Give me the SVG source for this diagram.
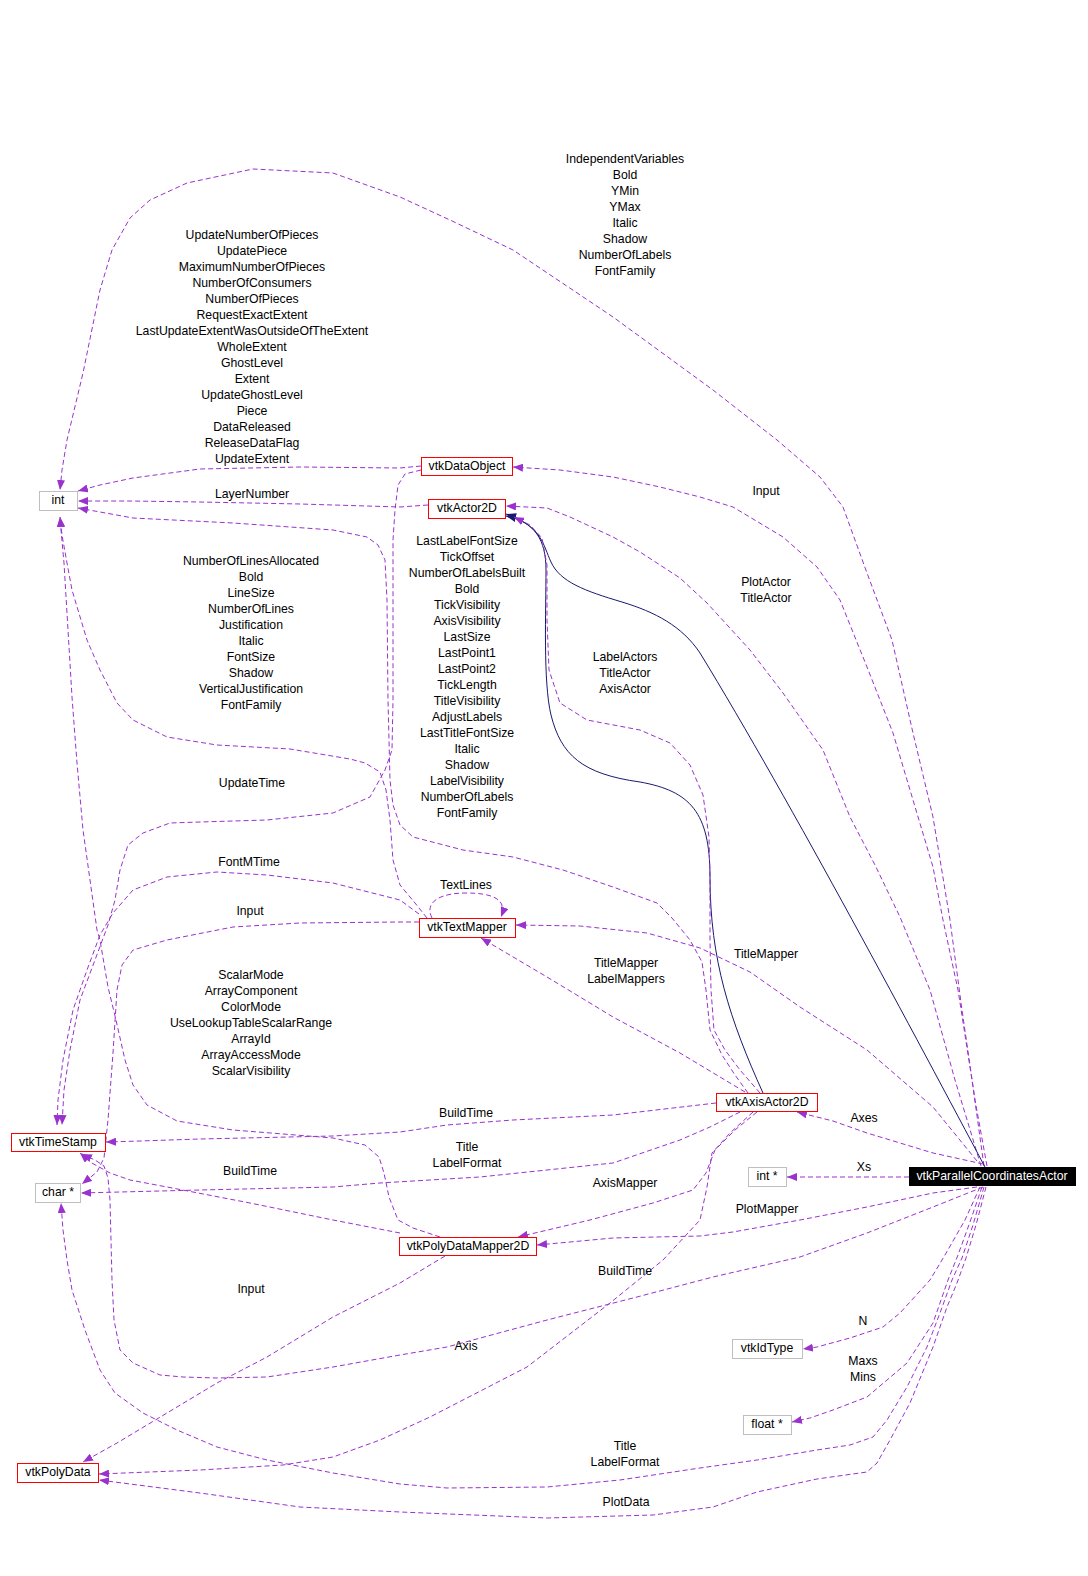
<svg xmlns="http://www.w3.org/2000/svg" width="1088" height="1576" viewBox="0 0 1088 1576">
<defs>
<marker id="ap" markerUnits="userSpaceOnUse" markerWidth="11" markerHeight="8" refX="10" refY="4" orient="auto" viewBox="0 0 11 8"><path d="M0,0L10,4L0,8z" fill="#9a32cd"/></marker>
<marker id="an" markerUnits="userSpaceOnUse" markerWidth="11" markerHeight="8" refX="10" refY="4" orient="auto" viewBox="0 0 11 8"><path d="M0,0L10,4L0,8z" fill="#191970"/></marker>
<style>
.e{fill:none;stroke:#9a32cd;stroke-width:1;stroke-dasharray:5,3;marker-end:url(#ap)}
.s{fill:none;stroke:#191970;stroke-width:1;marker-end:url(#an)}
text{font-family:"Liberation Sans",Arial,sans-serif;font-size:12.25px;fill:#000;text-anchor:middle}
.r{fill:#fff;stroke:#ff0000;stroke-width:1}
.g{fill:#fff;stroke:#bfbfbf;stroke-width:1}
</style>
</defs>
<rect width="1088" height="1576" fill="#fff"/>
<g id="edges">
<path class="e" d="M987,1166 L975,1100 L962,1010 L950,920 L933,817 L913,733 L892,640 L867,573 L843,507 L820,477 L777,440 L713,390 L613,317 L513,250 L450,220 L400,197 L333,173 L253,169 L187,183 L150,200 L130,218 L112,250 L100,290 L83,373 L67,440 L62,470 L60,490"/>
<path class="e" d="M984,1166 L972,1080 L958,990 L943,920 L933,867 L913,800 L893,733 L867,667 L840,600 L817,567 L783,537 L733,507 L700,497 L660,487 L613,477 L560,470 L513,467"/>
<path class="e" d="M981,1166 L955,1080 L930,990 L900,917 L875,865 L850,817 L823,750 L783,693 L750,650 L707,603 L680,578 L640,552 L613,537 L570,517 L547,508 L506,506"/>
<path class="s" d="M985,1167 C920,1045 790,800 700,653 C682,626 655,612 622,602 C585,591 560,582 551,562 C543,545 542,526 506,514"/>
<path class="s" d="M763,1093 C730,1020 710,960 710,877 C710,812 690,791 640,782 C582,774 561,755 551,715 C543,682 546,610 546,570 C546,540 535,522 506,516"/>
<path class="e" d="M760,1093 L740,1070 L725,1050 L714,1030 L711,990 L710,940 L710,880 L709,837 L703,795 L690,765 L670,743 L640,730 L587,720 L560,703 L549,670 L547,620 L547,565 L542,538 L530,525 L514,517"/>
<path class="e" d="M745,1092 L680,1053 L613,1017 L547,977 L481,938"/>
<path class="e" d="M977,1161 L933,1107 L867,1050 L800,1007 L750,972 L700,948 L647,933 L580,926 L516,925"/>
<path class="e" d="M432,918 C424,902 440,893 466,893 C492,893 508,899 501,917"/>
<path class="e" d="M427,918 L415,903 L400,885 L393,860 L390,820 L386,790 L380,772 L365,763 L350,759 L290,749 L217,745 L167,737 L133,720 L117,703 L100,670 L87,640 L72,590 L67,563 L62,535 L60,517"/>
<path class="e" d="M421,470 L405,474 L398,485 L395,510 L393,540 L393,700 L392,750 L385,770 L370,797 L333,813 L267,820 L200,822 L170,823 L143,833 L128,845 L120,870 L115,900 L108,925 L95,960 L80,1000 L70,1050 L64,1090 L62,1125"/>
<path class="e" d="M419,914 L400,900 L333,883 L267,875 L217,872 L167,877 L133,890 L113,913 L100,935 L87,970 L73,1010 L63,1060 L58,1100 L57,1125"/>
<path class="e" d="M419,922 L400,922 L300,923 L233,927 L167,940 L133,950 L122,965 L117,990 L113,1053 L108,1120 L104,1158 L97,1172 L82,1184"/>
<path class="e" d="M428,505 L400,507 L300,504 L200,502 L130,501 L78,501"/>
<path class="e" d="M421,466 L400,468 L300,467 L200,469 L133,478 L100,485 L78,491"/>
<path class="e" d="M748,1093 L735,1075 L722,1055 L710,1030 L706,990 L702,962 L690,940 L672,918 L657,903 L613,887 L563,870 L513,857 L463,850 L413,837 L400,825 L393,805 L390,780 L388,700 L387,600 L385,560 L378,545 L367,537 L333,530 L233,523 L133,518 L100,512 L78,508"/>
<path class="e" d="M440,1237 L413,1228 L398,1220 L389,1197 L384,1173 L379,1157 L365,1145 L333,1138 L233,1130 L177,1121 L147,1105 L133,1085 L125,1060 L116,1020 L108,987 L100,940 L97,930 L90,880 L83,830 L77,763 L72,697 L68,630 L64,563 L61,530 L60,517"/>
<path class="e" d="M716,1103 L613,1115 L513,1120 L447,1125 L400,1132 L333,1136 L200,1139 L140,1141 L106,1142"/>
<path class="e" d="M400,1233 L333,1220 L250,1203 L167,1187 L130,1180 L110,1173 L90,1162 L80,1153"/>
<path class="e" d="M983,1187 L933,1207 L867,1233 L800,1257 L713,1277 L637,1297 L547,1320 L447,1347 L400,1355 L333,1367 L267,1377 L217,1378 L183,1377 L160,1375 L133,1363 L120,1350 L114,1320 L112,1280 L111,1240 L110,1200 L108,1178 L104,1166 L95,1160 L82,1154"/>
<path class="e" d="M740,1112 L710,1127 L680,1140 L613,1163 L547,1170 L480,1177 L380,1183 L333,1187 L200,1190 L120,1192 L81,1193"/>
<path class="e" d="M757,1112 L735,1130 L715,1150 L706,1173 L693,1190 L653,1203 L590,1220 L518,1237"/>
<path class="e" d="M753,1112 L730,1133 L712,1153 L707,1187 L700,1220 L663,1260 L610,1303 L527,1367 L430,1417 L380,1440 L333,1457 L283,1465 L200,1470 L99,1474"/>
<path class="e" d="M983,1164 L933,1153 L867,1133 L833,1121 L797,1112"/>
<path class="e" d="M909,1177 L787,1177"/>
<path class="e" d="M977,1187 L933,1193 L867,1207 L800,1220 L733,1232 L700,1236 L613,1238 L570,1242 L537,1245"/>
<path class="e" d="M980,1187 L965,1220 L945,1255 L930,1280 L900,1313 L883,1327 L850,1338 L817,1347 L803,1349"/>
<path class="e" d="M982,1187 L970,1222 L958,1255 L948,1280 L940,1303 L933,1323 L907,1363 L887,1380 L867,1397 L833,1410 L810,1418 L792,1422"/>
<path class="e" d="M984,1187 L973,1225 L962,1258 L952,1280 L940,1313 L927,1347 L907,1387 L887,1420 L873,1437 L850,1445 L817,1450 L757,1460 L700,1468 L620,1480 L547,1487 L447,1488 L400,1484 L333,1473 L267,1460 L217,1447 L177,1430 L143,1413 L115,1393 L100,1370 L85,1330 L72,1290 L67,1260 L63,1230 L61,1203"/>
<path class="e" d="M986,1187 L976,1225 L966,1258 L957,1283 L947,1307 L933,1347 L910,1403 L890,1440 L877,1463 L867,1472 L817,1479 L757,1492 L713,1507 L653,1515 L547,1518 L400,1512 L300,1507 L200,1493 L99,1480"/>
<path class="e" d="M445,1256 L400,1283 L333,1317 L267,1357 L217,1383 L167,1413 L117,1443 L83,1462"/>
</g>
<g id="labels">
<text x="625" y="163">IndependentVariables<tspan x="625" dy="16">Bold</tspan><tspan x="625" dy="16">YMin</tspan><tspan x="625" dy="16">YMax</tspan><tspan x="625" dy="16">Italic</tspan><tspan x="625" dy="16">Shadow</tspan><tspan x="625" dy="16">NumberOfLabels</tspan><tspan x="625" dy="16">FontFamily</tspan></text>
<text x="252" y="239">UpdateNumberOfPieces<tspan x="252" dy="16">UpdatePiece</tspan><tspan x="252" dy="16">MaximumNumberOfPieces</tspan><tspan x="252" dy="16">NumberOfConsumers</tspan><tspan x="252" dy="16">NumberOfPieces</tspan><tspan x="252" dy="16">RequestExactExtent</tspan><tspan x="252" dy="16">LastUpdateExtentWasOutsideOfTheExtent</tspan><tspan x="252" dy="16">WholeExtent</tspan><tspan x="252" dy="16">GhostLevel</tspan><tspan x="252" dy="16">Extent</tspan><tspan x="252" dy="16">UpdateGhostLevel</tspan><tspan x="252" dy="16">Piece</tspan><tspan x="252" dy="16">DataReleased</tspan><tspan x="252" dy="16">ReleaseDataFlag</tspan><tspan x="252" dy="16">UpdateExtent</tspan></text>
<text x="252" y="498">LayerNumber</text>
<text x="766" y="495">Input</text>
<text x="766" y="586">PlotActor<tspan x="766" dy="16">TitleActor</tspan></text>
<text x="251" y="565">NumberOfLinesAllocated<tspan x="251" dy="16">Bold</tspan><tspan x="251" dy="16">LineSize</tspan><tspan x="251" dy="16">NumberOfLines</tspan><tspan x="251" dy="16">Justification</tspan><tspan x="251" dy="16">Italic</tspan><tspan x="251" dy="16">FontSize</tspan><tspan x="251" dy="16">Shadow</tspan><tspan x="251" dy="16">VerticalJustification</tspan><tspan x="251" dy="16">FontFamily</tspan></text>
<text x="467" y="545">LastLabelFontSize<tspan x="467" dy="16">TickOffset</tspan><tspan x="467" dy="16">NumberOfLabelsBuilt</tspan><tspan x="467" dy="16">Bold</tspan><tspan x="467" dy="16">TickVisibility</tspan><tspan x="467" dy="16">AxisVisibility</tspan><tspan x="467" dy="16">LastSize</tspan><tspan x="467" dy="16">LastPoint1</tspan><tspan x="467" dy="16">LastPoint2</tspan><tspan x="467" dy="16">TickLength</tspan><tspan x="467" dy="16">TitleVisibility</tspan><tspan x="467" dy="16">AdjustLabels</tspan><tspan x="467" dy="16">LastTitleFontSize</tspan><tspan x="467" dy="16">Italic</tspan><tspan x="467" dy="16">Shadow</tspan><tspan x="467" dy="16">LabelVisibility</tspan><tspan x="467" dy="16">NumberOfLabels</tspan><tspan x="467" dy="16">FontFamily</tspan></text>
<text x="625" y="661">LabelActors<tspan x="625" dy="16">TitleActor</tspan><tspan x="625" dy="16">AxisActor</tspan></text>
<text x="252" y="787">UpdateTime</text>
<text x="249" y="866">FontMTime</text>
<text x="466" y="889">TextLines</text>
<text x="250" y="915">Input</text>
<text x="626" y="967">TitleMapper<tspan x="626" dy="16">LabelMappers</tspan></text>
<text x="766" y="958">TitleMapper</text>
<text x="251" y="979">ScalarMode<tspan x="251" dy="16">ArrayComponent</tspan><tspan x="251" dy="16">ColorMode</tspan><tspan x="251" dy="16">UseLookupTableScalarRange</tspan><tspan x="251" dy="16">ArrayId</tspan><tspan x="251" dy="16">ArrayAccessMode</tspan><tspan x="251" dy="16">ScalarVisibility</tspan></text>
<text x="466" y="1117">BuildTime</text>
<text x="864" y="1122">Axes</text>
<text x="467" y="1151">Title<tspan x="467" dy="16">LabelFormat</tspan></text>
<text x="250" y="1175">BuildTime</text>
<text x="864" y="1171">Xs</text>
<text x="625" y="1187">AxisMapper</text>
<text x="767" y="1213">PlotMapper</text>
<text x="625" y="1275">BuildTime</text>
<text x="251" y="1293">Input</text>
<text x="863" y="1325">N</text>
<text x="466" y="1350">Axis</text>
<text x="863" y="1365">Maxs<tspan x="863" dy="16">Mins</tspan></text>
<text x="625" y="1450">Title<tspan x="625" dy="16">LabelFormat</tspan></text>
<text x="626" y="1506">PlotData</text>
</g>
<g id="node-int"><rect class="g" x="39.5" y="491.5" width="38" height="19"/><text x="58" y="504">int</text></g>
<g id="node-vtkDataObject"><rect class="r" x="421.5" y="457.5" width="91" height="18"/><text x="467" y="470">vtkDataObject</text></g>
<g id="node-vtkActor2D"><rect class="r" x="428.5" y="499.5" width="77" height="19"/><text x="467" y="512">vtkActor2D</text></g>
<g id="node-vtkTextMapper"><rect class="r" x="419.5" y="918.5" width="96" height="19"/><text x="467" y="931">vtkTextMapper</text></g>
<g id="node-vtkTimeStamp"><rect class="r" x="11.5" y="1133.5" width="94" height="18"/><text x="58" y="1146">vtkTimeStamp</text></g>
<g id="node-char"><rect class="g" x="35.5" y="1183.5" width="45" height="19"/><text x="58" y="1196">char *</text></g>
<g id="node-vtkAxisActor2D"><rect class="r" x="716.5" y="1093.5" width="101" height="18"/><text x="767" y="1106">vtkAxisActor2D</text></g>
<g id="node-intptr"><rect class="g" x="748.5" y="1167.5" width="38" height="19"/><text x="767" y="1180">int *</text></g>
<g id="node-vtkParallelCoordinatesActor"><rect x="909" y="1167" width="167" height="19" fill="#000"/><text x="992" y="1180" style="fill:#fff">vtkParallelCoordinatesActor</text></g>
<g id="node-vtkPolyDataMapper2D"><rect class="r" x="399.5" y="1237.5" width="137" height="18"/><text x="468" y="1250">vtkPolyDataMapper2D</text></g>
<g id="node-vtkPolyData"><rect class="r" x="17.5" y="1463.5" width="81" height="19"/><text x="58" y="1476">vtkPolyData</text></g>
<g id="node-vtkIdType"><rect class="g" x="732.5" y="1339.5" width="70" height="19"/><text x="767" y="1352">vtkIdType</text></g>
<g id="node-float"><rect class="g" x="743.5" y="1415.5" width="48" height="19"/><text x="767" y="1428">float *</text></g>
</svg>
